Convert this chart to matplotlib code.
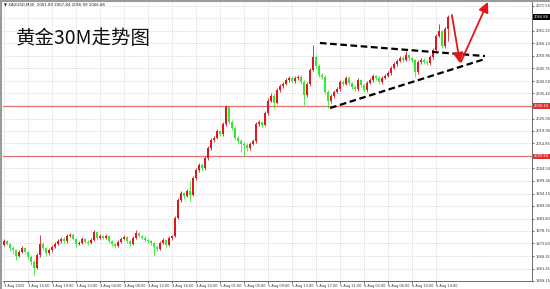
import matplotlib
matplotlib.use("Agg")
import matplotlib.pyplot as plt
from matplotlib.lines import Line2D

# XAUUSD M30 candles (open = previous close)
first_open = 1973.0
closes = [
    1974.6, 1973.4, 1971.8, 1970.9, 1968.5, 1970.1, 1971.8, 1970.1, 1968.0, 1966.0,
    1963.5, 1968.9, 1973.4, 1971.8, 1969.7, 1970.9, 1972.2, 1973.4, 1974.6, 1975.5,
    1974.6, 1976.7, 1977.1, 1975.5, 1973.4, 1973.8, 1975.5, 1974.2, 1973.8, 1975.0,
    1978.3, 1975.9, 1976.7, 1975.9, 1976.7, 1974.6, 1973.4, 1972.6, 1974.2, 1975.5,
    1976.3, 1974.6, 1973.4, 1975.9, 1977.9, 1976.7, 1975.9, 1975.0, 1974.6, 1973.8,
    1972.2, 1971.3, 1973.8, 1975.0, 1973.0, 1975.9, 1976.7, 1984.1, 1991.5, 1994.4,
    1993.2, 1995.2, 1993.6, 2000.6, 2003.9, 2005.9, 2004.7, 2008.8, 2012.9, 2016.2,
    2017.1, 2019.9, 2018.7, 2022.8, 2029.8, 2023.6, 2021.2, 2017.1, 2015.8, 2014.6,
    2014.2, 2012.9, 2014.6, 2015.8, 2022.8, 2023.6, 2022.4, 2027.3, 2032.3, 2034.4,
    2031.5, 2036.8, 2038.5, 2039.3, 2040.9, 2041.8, 2040.5, 2041.8, 2042.2, 2040.1,
    2034.8, 2039.3, 2045.1, 2050.4, 2046.7, 2043.0, 2042.2, 2036.0, 2032.3, 2034.4,
    2036.0, 2037.2, 2040.1, 2039.3, 2041.8, 2039.7, 2038.1, 2037.2, 2040.9, 2038.9,
    2036.8, 2039.7, 2040.9, 2042.6, 2041.8, 2040.1, 2041.8, 2042.6, 2043.8, 2045.9,
    2047.5, 2048.8, 2050.0, 2049.2, 2051.2, 2050.0, 2049.2, 2044.2, 2048.4, 2049.2,
    2048.4, 2047.9, 2050.4, 2053.3, 2059.1, 2061.1, 2054.9, 2061.8, 2066.88,
]
highs = [
    1975.4, 1975.0, 1974.0, 1972.5, 1971.4, 1970.8, 1972.6, 1972.3, 1970.6, 1968.7,
    1966.9, 1969.8, 1977.0, 1974.2, 1972.3, 1971.6, 1972.9, 1974.1, 1975.4, 1976.3,
    1976.2, 1977.5, 1978.0, 1977.8, 1976.0, 1974.6, 1976.2, 1976.0, 1974.9, 1975.7,
    1979.2, 1978.8, 1977.4, 1977.3, 1977.5, 1977.2, 1975.1, 1974.0, 1974.9, 1976.2,
    1977.0, 1976.8, 1975.1, 1976.5, 1979.0, 1978.5, 1977.3, 1976.5, 1975.6, 1975.2,
    1974.3, 1972.8, 1974.5, 1975.8, 1975.6, 1976.6, 1977.3, 1985.0, 1992.4, 1995.2,
    1995.0, 1996.0, 1999.4, 2001.5, 2004.8, 2006.8, 2006.6, 2009.6, 2013.8, 2017.0,
    2018.0, 2020.8, 2020.5, 2023.7, 2030.7, 2030.4, 2024.3, 2021.8, 2017.8, 2016.5,
    2015.3, 2014.8, 2015.4, 2016.6, 2023.6, 2024.5, 2024.2, 2028.2, 2033.6, 2035.4,
    2035.0, 2037.6, 2039.4, 2040.2, 2041.8, 2042.7, 2042.4, 2042.6, 2043.1, 2042.9,
    2040.8, 2040.1, 2046.0, 2055.4, 2051.1, 2047.4, 2043.8, 2042.9, 2036.7, 2035.2,
    2036.8, 2038.0, 2041.0, 2040.8, 2042.6, 2042.4, 2040.3, 2038.8, 2041.7, 2041.5,
    2039.5, 2040.5, 2041.7, 2043.4, 2043.2, 2042.4, 2042.5, 2043.3, 2044.6, 2046.7,
    2048.3, 2049.6, 2050.8, 2050.7, 2052.8, 2051.8, 2050.6, 2049.8, 2049.2, 2050.0,
    2049.9, 2049.0, 2051.2, 2054.2, 2060.0, 2064.2, 2061.7, 2062.6, 2067.84,
]
lows = [
    1972.4, 1972.8, 1970.6, 1969.2, 1966.8, 1967.9, 1969.6, 1969.4, 1967.2, 1964.8,
    1960.6, 1962.9, 1968.2, 1970.9, 1968.4, 1969.0, 1970.3, 1971.6, 1972.9, 1974.0,
    1973.8, 1974.0, 1976.2, 1974.9, 1972.1, 1972.9, 1973.2, 1973.6, 1973.0, 1973.2,
    1974.5, 1975.2, 1975.3, 1975.3, 1975.4, 1974.0, 1972.6, 1971.6, 1972.1, 1973.7,
    1975.0, 1974.0, 1972.7, 1972.9, 1975.4, 1976.1, 1975.3, 1974.3, 1973.9, 1972.9,
    1968.6, 1970.4, 1970.8, 1973.2, 1972.2, 1972.5, 1975.2, 1976.2, 1983.5, 1990.8,
    1992.0, 1992.6, 1991.3, 1993.0, 1999.8, 2003.2, 2003.6, 2004.0, 2008.1, 2012.2,
    2015.4, 2016.5, 2017.9, 2018.0, 2022.1, 2022.8, 2020.3, 2016.3, 2014.6, 2011.2,
    2009.6, 2011.8, 2012.2, 2014.0, 2015.2, 2021.9, 2021.6, 2021.8, 2026.6, 2031.7,
    2029.4, 2030.9, 2036.1, 2037.8, 2038.7, 2040.2, 2039.8, 2039.9, 2041.1, 2039.4,
    2030.7, 2034.1, 2038.6, 2044.5, 2045.9, 2042.2, 2041.3, 2035.1, 2029.6, 2031.6,
    2033.7, 2035.4, 2036.6, 2038.6, 2038.7, 2039.0, 2037.4, 2036.4, 2036.6, 2038.2,
    2035.9, 2036.2, 2039.1, 2040.3, 2041.1, 2039.3, 2039.5, 2041.2, 2042.0, 2043.2,
    2045.3, 2046.9, 2048.2, 2048.5, 2048.6, 2049.3, 2048.4, 2042.2, 2043.6, 2047.7,
    2047.6, 2047.1, 2047.3, 2049.8, 2052.7, 2058.5, 2054.0, 2054.3, 2056.99,
]

time_labels = ["3 Aug 2020", "3 Aug 15:00", "3 Aug 19:00", "3 Aug 23:00", "4 Aug 04:00",
               "4 Aug 08:00", "4 Aug 12:00", "4 Aug 16:00", "4 Aug 20:00", "5 Aug 01:00",
               "5 Aug 05:00", "5 Aug 09:00", "5 Aug 13:00", "5 Aug 17:00", "5 Aug 21:00",
               "6 Aug 02:00", "6 Aug 06:00", "6 Aug 10:00", "6 Aug 14:00"]
price_ticks = [2071.55, 2061.20, 2056.10, 2050.85, 2045.75, 2040.50, 2035.40, 2025.05,
               2019.95, 2014.85, 2004.50, 1999.40, 1994.15, 1989.05, 1983.80, 1978.75,
               1973.60, 1968.35, 1963.25, 1958.15]
grid_extra = [2066.40, 2030.25, 2009.65]
levels = [2030.20, 2009.50]
current = 2066.88
header = "XAUUSD,M30  2061.80 2067.84 2056.99 2066.88"

# triangle drawn by hand, and the expected move
upper_line = ([105.3, 160.3], [2056.2, 2050.8])
lower_line = ([108.7, 160.3], [2029.4, 2049.6])
arrow_down = ((149.3, 2067.7), (152.0, 2047.9))
arrow_up = ((152.3, 2048.4), (161.3, 2073.1))

UP = "#e3161b"
DOWN = "#33ea33"

fig = plt.figure(figsize=(5.5, 2.89), dpi=100)
ax = fig.add_axes([3 / 550, 8 / 289, 529 / 550, 280 / 289])

opens = [first_open] + closes[:-1]
for i, (o, h, l, c) in enumerate(zip(opens, highs, lows, closes)):
    col = UP if c >= o else DOWN
    ax.vlines(i, l, h, color=col, lw=0.6, zorder=3)
    ax.bar(i, max(abs(c - o), 0.15), bottom=min(o, c), width=0.7,
           color=col, linewidth=0, zorder=4)

for lv in levels:
    ax.axhline(lv, color="#e07070", lw=0.9, zorder=2)

ax.plot(*upper_line, color="black", lw=1.6, dashes=(3, 1.6), zorder=5)
ax.plot(*lower_line, color="black", lw=1.6, dashes=(3, 1.6), zorder=5)
for (s, e) in (arrow_down, arrow_up):
    ax.annotate("", xy=e, xytext=s, annotation_clip=False, zorder=6,
                arrowprops=dict(arrowstyle="-|>,head_length=0.6,head_width=0.3",
                                color=UP, lw=1.3, shrinkA=0, shrinkB=0, mutation_scale=10))

ax.set_xlim(-0.33, 176)
ax.set_ylim(1958.15, 2073.49)

xt = [8 * k for k in range(len(time_labels))]
ax.set_xticks(xt)
ax.set_xticklabels(time_labels, fontsize=2.5, ha="left")
ax.set_yticks(price_ticks)
ax.set_yticklabels([f"{p:.2f}" for p in price_ticks], fontsize=2.6)
ax.yaxis.tick_right()
ax.tick_params(axis="y", length=1.5, width=0.5, pad=1, colors="#333333")
ax.tick_params(axis="x", length=1.5, width=0.5, pad=0.5, colors="#333333")

for p in price_ticks + grid_extra:
    ax.axhline(p, color="#cfcfcf", lw=0.5, ls=(0, (1.5, 1.5)), zorder=1)
for x in xt:
    ax.axvline(x, color="#cfcfcf", lw=0.5, ls=(0, (1.5, 1.5)), zorder=1)

for s in ("left", "top"):
    ax.spines[s].set_visible(False)
for s in ("right", "bottom"):
    ax.spines[s].set_color("#555555")
    ax.spines[s].set_linewidth(0.6)

tr = ax.get_yaxis_transform()
ax.text(1.004, current, f"{current:.2f}", transform=tr, fontsize=2.6, color="white",
        va="center", ha="left", clip_on=False,
        bbox=dict(boxstyle="square,pad=0.2", fc="black", ec="none"))
for lv in levels:
    ax.text(1.004, lv, f"{lv:.2f}", transform=tr, fontsize=2.6, color="white",
            va="center", ha="left", clip_on=False,
            bbox=dict(boxstyle="square,pad=0.2", fc="#e03030", ec="none"))

ax.text(0.002, 0.993, "\u25bc " + header, transform=ax.transAxes, fontsize=2.8,
        va="top", ha="left", color="#222222")
ax.text(0.024, 0.905, "黄金30M走势图", transform=ax.transAxes, fontsize=14,
        va="top", ha="left", color="#111111",
        family=["Noto Sans CJK SC", "DejaVu Sans"])

fig.add_artist(Line2D([0, 1], [0.998, 0.998], transform=fig.transFigure,
                      color="#9a9a9a", lw=1.5))
fig.add_artist(Line2D([0.002, 0.002], [0, 1], transform=fig.transFigure,
                      color="#9a9a9a", lw=1.5))

fig.savefig("out.png", dpi=100)
